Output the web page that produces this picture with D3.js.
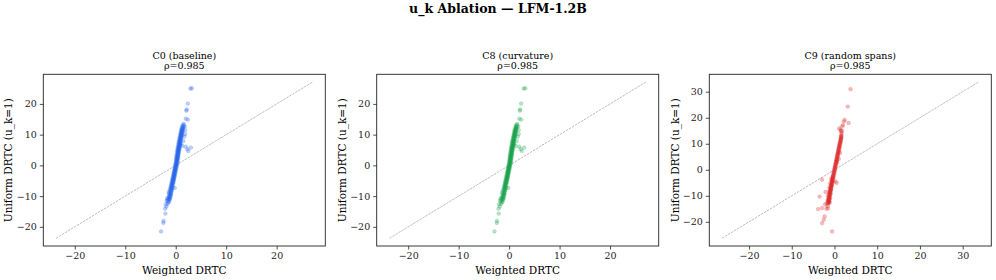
<!DOCTYPE html>
<html>
<head>
<meta charset="utf-8">
<script src="https://cdn.jsdelivr.net/npm/d3@7"></script>
<style>
  body { margin: 0; background: #fff; }
  svg { display: block; font-family: 'DejaVu Serif', serif; }
</style>
</head>
<body>
<div id="chart"></div>
<script>
// panel data: [weighted, uniform] pairs
const c0Points = [
  [-1.5,-12.1],[-1.3,-11.8],[-1.6,-11.5],[-1.2,-11.2],[-1.4,-11.0],[-1.1,-10.7],[-1.5,-10.5],[-1.25,-10.3],
  [-1.0,-10.1],[-1.35,-9.9],[-1.15,-9.6],[-0.95,-9.4],[-1.3,-9.2],[-1.05,-9.0],[-1.4,-8.8],[-0.9,-8.6],
  [-1.1,-8.4],[-0.8,-8.2],[-1.2,-8.0],[-0.95,-7.8],[-0.7,-7.6],[-1.05,-7.4],[-0.85,-7.2],[-0.6,-7.0],
  [-1.0,-6.8],[-0.75,-6.6],[-0.9,-6.4],[-0.55,-6.2],[-0.8,-6.0],[-0.65,-5.8],[-0.45,-5.6],[-0.85,-5.4],
  [-0.6,-5.2],[-0.4,-5.0],[-0.7,-4.8],[-0.5,-4.6],[-0.3,-4.4],[-0.65,-4.2],[-0.45,-4.0],[-0.25,-3.8],
  [-0.55,-3.6],[-0.35,-3.4],[-0.15,-3.2],[-0.5,-3.0],[-0.3,-2.8],[-0.1,-2.6],[-0.4,-2.4],[-0.2,-2.2],
  [0.0,-2.0],[-0.35,-1.8],[-0.15,-1.6],[0.05,-1.4],[-0.25,-1.2],[-0.05,-1.0],[0.15,-0.8],[-0.2,-0.6],
  [0.0,-0.4],[0.2,-0.2],[-0.1,0.0],[0.1,0.2],[0.3,0.4],[-0.05,0.6],[0.15,0.8],[0.35,1.0],
  [0.0,1.2],[0.2,1.4],[0.4,1.6],[0.05,1.8],[0.25,2.0],[0.45,2.2],[0.1,2.4],[0.3,2.6],[0.5,2.8],
  [0.15,3.0],[0.35,3.2],[0.55,3.4],[0.2,3.6],[0.4,3.8],[0.6,4.0],[0.25,4.2],[0.45,4.4],[0.65,4.6],
  [0.3,4.8],[0.5,5.0],[0.7,5.2],[0.35,5.4],[0.55,5.6],[0.75,5.8],[0.4,6.0],[0.6,6.2],[0.8,6.4],
  [0.5,6.6],[0.7,6.8],[0.9,7.0],[0.55,7.2],[0.75,7.4],[0.95,7.6],[0.6,7.8],[0.8,8.0],[1.0,8.2],
  [0.7,8.4],[0.9,8.6],[1.1,8.8],[0.75,9.0],[0.95,9.2],[1.15,9.4],[0.85,9.6],[1.05,9.8],[1.25,10.0],
  [0.9,10.2],[1.1,10.4],[1.3,10.6],[1.0,10.8],[1.2,11.0],[1.4,11.2],[1.05,11.4],[1.25,11.6],[1.45,11.8],
  [1.15,12.0],[1.35,12.3],[1.55,12.6],[1.3,12.9],[1.5,13.2],[1.6,13.5],
  [-1.0,-9.5],[-0.9,-8.9],[-0.85,-7.9],[-0.75,-7.1],[-0.7,-6.3],[-0.6,-5.5],[-0.5,-4.9],[-0.45,-4.3],
  [-0.35,-3.7],[-0.3,-3.1],[-0.25,-2.5],[-0.2,-1.9],[-0.1,-1.3],[-0.05,-0.7],[0.05,-0.1],[0.1,0.5],
  [0.2,1.1],[0.25,1.7],[0.3,2.3],[0.35,2.9],[0.45,3.5],[0.5,4.1],[0.55,4.7],[0.6,5.3],[0.7,5.9],
  [0.75,6.5],[0.8,7.1],[0.85,7.7],[0.9,8.3],[1.0,8.9],[1.05,9.5],[1.1,10.1],[1.2,10.7],[1.25,11.3],
  [1.35,11.9],[1.4,12.5],[-1.2,-10.4],[-1.3,-11.1],
  // outliers
  [2.9,25.0],[3.2,25.1],[2.4,20.1],[2.2,18.2],[2.1,17.8],[2.0,15.2],[2.4,14.9],[1.9,11.5],[1.8,12.7],
  [1.9,10.2],[1.0,6.8],[2.0,6.1],[3.0,5.8],[2.5,4.7],[0.65,5.2],[1.5,7.9],[1.7,9.4],[2.3,5.3],[1.3,6.3],
  [-2.0,-12.7],[-2.1,-14.1],[-2.05,-15.7],[-2.4,-18.1],[-2.45,-18.7],[-2.9,-21.5],[-1.8,-11.5],
  [-1.7,-10.8],[-1.6,-12.5],[-0.2,-7.3],[-1.85,-13.4]
];
// C8 shows the same scatter as the baseline
const c8Points = c0Points;
const c9Points = [
  [-1.5,-13.0],[-1.3,-12.6],[-1.55,-12.2],[-1.25,-11.8],[-1.45,-11.4],[-1.15,-11.0],[-1.4,-10.6],[-1.1,-10.2],
  [-1.3,-9.8],[-1.0,-9.4],[-1.2,-9.0],[-0.95,-8.6],[-1.1,-8.2],[-0.85,-7.8],[-1.0,-7.4],[-0.75,-7.0],
  [-0.9,-6.6],[-0.65,-6.2],[-0.8,-5.8],[-0.55,-5.4],[-0.7,-5.0],[-0.45,-4.6],[-0.6,-4.2],[-0.35,-3.8],
  [-0.5,-3.4],[-0.25,-3.0],[-0.4,-2.6],[-0.15,-2.2],[-0.3,-1.8],[-0.05,-1.4],[-0.2,-1.0],[0.05,-0.6],
  [-0.1,-0.2],[0.15,0.2],[0.0,0.6],[0.25,1.0],[0.1,1.4],[0.35,1.8],[0.2,2.2],[0.45,2.6],[0.3,3.0],
  [0.55,3.4],[0.4,3.8],[0.65,4.2],[0.5,4.6],[0.75,5.0],[0.6,5.4],[0.85,5.8],[0.7,6.2],[0.95,6.6],
  [0.8,7.0],[1.05,7.4],[0.9,7.8],[1.15,8.2],[1.0,8.6],[1.25,9.0],[1.1,9.4],[1.35,9.8],[1.2,10.2],
  [1.45,10.6],[1.3,11.0],[1.55,11.4],[1.4,11.8],[1.6,12.2],[1.5,12.6],[1.65,13.0],
  [-1.35,-12.9],[-1.4,-12.0],[-1.2,-11.3],[-1.25,-10.5],[-1.15,-9.6],[-1.05,-8.9],[-0.95,-8.0],[-0.85,-7.2],
  [-0.75,-6.4],[-0.7,-5.6],[-0.6,-4.8],[-0.5,-4.0],[-0.4,-3.2],[-0.3,-2.4],[-0.2,-1.6],[-0.1,-0.8],
  [0.0,0.0],[0.1,0.8],[0.2,1.6],[0.3,2.4],[0.4,3.2],[0.5,4.0],[0.6,4.8],[0.7,5.6],[0.8,6.4],
  [0.9,7.2],[1.0,8.0],[1.1,8.8],[1.2,9.6],[1.3,10.4],[1.4,11.2],[1.5,12.0],[1.55,12.8],
  [-1.1,-12.4],[-1.6,-11.6],[-1.0,-10.8],[-1.5,-10.0],[-0.9,-9.2],[-1.3,-8.4],[-0.8,-7.6],[-1.2,-6.8],
  [-0.7,-6.0],[-1.0,-5.2],[-0.55,-4.4],[-0.8,-3.6],[-0.45,-2.8],
  [1.6,13.5],[1.7,14.2],[1.5,14.8],[1.75,15.0],
  // outliers
  [3.75,31.0],[3.1,24.3],[2.4,19.2],[2.2,18.6],[3.3,18.0],[1.8,16.7],[1.4,15.4],[2.0,17.2],[1.1,15.9],
  [-1.6,-14.0],[-1.9,-15.0],[-2.9,-14.7],[-3.85,-15.1],[-2.3,-17.9],[-2.5,-19.2],[-2.9,-20.5],
  [-0.55,-23.7],[-3.5,-10.3],[-2.9,-3.8],[0.2,-4.5],[0.5,-5.0],[-1.3,-12.2],[-1.5,-14.8],[-2.2,-13.3],
  [-1.8,-12.9],[-2.1,-8.5],[0.6,3.0],[1.3,6.5],[1.0,4.2]
];

const panelTitles = ['C0 (baseline)', 'C8 (curvature)', 'C9 (random spans)'];
const rhoValues = [0.985, 0.985, 0.985];
const panelPoints = [c0Points, c8Points, c9Points];
const panelColors = ['#2563eb', '#16a34a', '#dc2626'];
// y = x reference line ends
const diagEnds = [[-23.7, 27.1], [-23.7, 27.1], [-26.3, 33.7]];
const tickValues = [
  [-20, -10, 0, 10, 20],
  [-20, -10, 0, 10, 20],
  [-20, -10, 0, 10, 20, 30]
];

const W = 996, H = 280;
const panelLeft = [43.3, 376.7, 709.3];
const panelW = 282;
const plotTop = 74.3, plotBottom = 246;

const svg = d3.select('#chart').append('svg')
  .attr('width', W).attr('height', H)
  .attr('viewBox', [0, 0, W, H]);

svg.append('text')
  .attr('x', W / 2).attr('y', 13)
  .attr('text-anchor', 'middle')
  .attr('font-size', 12.5)
  .attr('font-weight', 'bold')
  .text('u_k Ablation — LFM-1.2B');

panelPoints.forEach((pts, i) => {
  const [lo, hi] = diagEnds[i];
  const pad = (hi - lo) * 0.05;
  const x = d3.scaleLinear().domain([lo - pad, hi + pad]).range([panelLeft[i], panelLeft[i] + panelW]);
  const y = d3.scaleLinear().domain([lo - pad, hi + pad]).range([plotBottom, plotTop]);

  const g = svg.append('g');

  g.append('line')
    .attr('x1', x(lo)).attr('y1', y(lo))
    .attr('x2', x(hi)).attr('y2', y(hi))
    .attr('stroke', '#000')
    .attr('stroke-opacity', 0.45)
    .attr('stroke-width', 0.6)
    .attr('stroke-dasharray', '2.5,1');

  g.append('g')
    .selectAll('circle')
    .data(pts)
    .join('circle')
    .attr('cx', d => x(d[0]))
    .attr('cy', d => y(d[1]))
    .attr('r', 1.9)
    .attr('fill', panelColors[i])
    .attr('fill-opacity', 0.3)
    .attr('stroke', panelColors[i])
    .attr('stroke-opacity', 0.3)
    .attr('stroke-width', 0.5);

  const xAxis = g.append('g')
    .attr('transform', `translate(0,${plotBottom})`)
    .call(d3.axisBottom(x).tickValues(tickValues[i]).tickSize(3.5).tickPadding(3).tickFormat(d3.format('d')));
  const yAxis = g.append('g')
    .attr('transform', `translate(${panelLeft[i]},0)`)
    .call(d3.axisLeft(y).tickValues(tickValues[i]).tickSize(3.5).tickPadding(3).tickFormat(d3.format('d')));
  [xAxis, yAxis].forEach(a => {
    a.select('.domain').remove();
    a.selectAll('text').attr('font-family', 'DejaVu Serif').attr('font-size', 9.5).attr('fill', '#222');
    a.selectAll('line').attr('stroke', '#222').attr('stroke-width', 0.8);
  });

  g.append('rect')
    .attr('x', panelLeft[i]).attr('y', plotTop)
    .attr('width', panelW).attr('height', plotBottom - plotTop)
    .attr('fill', 'none')
    .attr('stroke', '#222')
    .attr('stroke-width', 0.9);

  const cx = panelLeft[i] + panelW / 2;
  g.append('text')
    .attr('x', cx).attr('y', 58.5)
    .attr('text-anchor', 'middle').attr('font-size', 9.5)
    .text(panelTitles[i]);
  g.append('text')
    .attr('x', cx).attr('y', 68.5)
    .attr('text-anchor', 'middle').attr('font-size', 9.5)
    .text('ρ=' + rhoValues[i].toFixed(3));

  g.append('text')
    .attr('x', cx).attr('y', 273.5)
    .attr('text-anchor', 'middle').attr('font-size', 10.5)
    .text('Weighted DRTC');

  g.append('text')
    .attr('transform', `translate(${panelLeft[i] - (i === 2 ? 30.5 : 31)},${(plotTop + plotBottom) / 2}) rotate(-90)`)
    .attr('text-anchor', 'middle').attr('font-size', 10.5)
    .text('Uniform DRTC (u_k=1)');
});
</script>
</body>
</html>
